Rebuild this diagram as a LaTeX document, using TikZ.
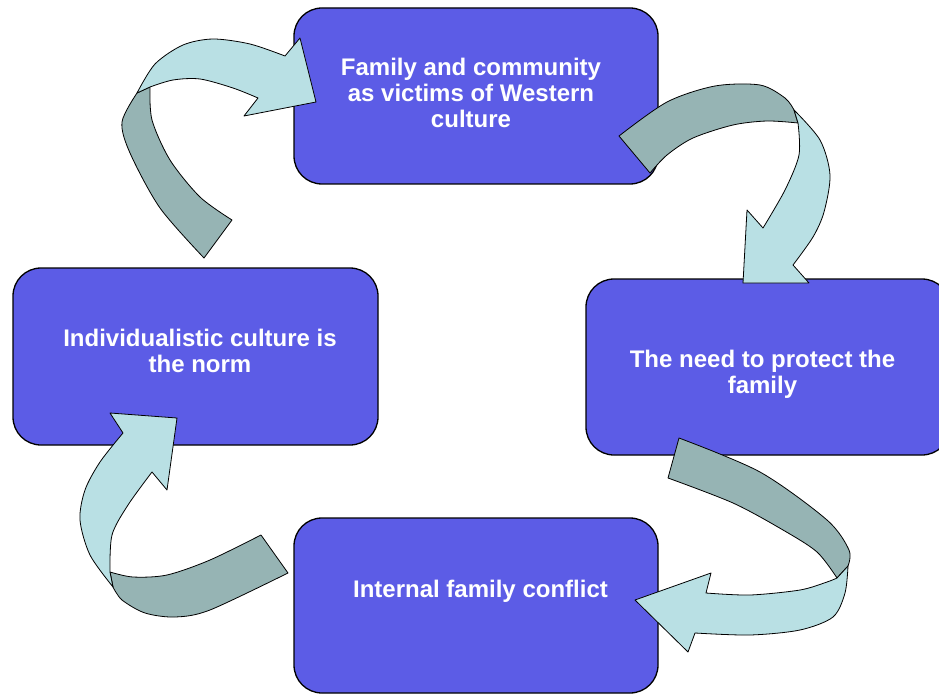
\documentclass[tikz,border=0pt]{standalone}
\usepackage{fontspec}
\setmainfont{Liberation Sans}
\definecolor{boxblue}{RGB}{92,92,230}
\definecolor{arrlight}{RGB}{185,224,228}
\definecolor{arrdark}{RGB}{150,180,180}
\begin{document}
\begin{tikzpicture}[x=1pt,y=-1pt,
  box/.style={draw=black, line width=1.3pt, fill=boxblue, rounded corners=28pt, minimum width=364pt, minimum height=176pt, inner sep=0pt},
  lbl/.style={text=white, font=\bfseries\fontsize{24}{26}\selectfont, align=center, inner sep=0pt},
  light/.style={fill=arrlight, draw=black, line width=0.8pt, line join=round},
  dark/.style={fill=arrdark, draw=black, line width=0.8pt, line join=round}]
\useasboundingbox (0,0) rectangle (939,695);
% boxes
\node[box] (top) at (476,96) {};
\node[box, minimum width=365pt, minimum height=177pt] (left) at (195.5,356.5) {};
\node[box] (right) at (768,367) {};
\node[box, minimum height=175pt] (bottom) at (476,605.5) {};
% labels
\node[lbl] (toptext) at (471,93.3) {Family and community\\as victims of Western\\culture};
\node[lbl] (lefttext) at (200,351.3) {Individualistic culture is\\the norm};
\node[lbl] (righttext) at (762.5,374) {The need to protect the\\family};
\node[lbl, anchor=base] (bottomtext) at (480.5,597) {Internal family conflict};
% arrow 1: left -> top
\draw[dark] (232,220) -- plot[smooth] coordinates {(204,258) (160,208) (130,153) (122,122) (137,93)} -- plot[smooth] coordinates {(150,87) (152,120) (170,160) (200,197) (232,220)} -- cycle;
\draw[light] plot[smooth] coordinates {(137,93) (155,64) (183,45) (213,39) (250,44) (285,56)} -- (300,38) -- (316,102) -- (244,116) -- plot[smooth] coordinates {(258,98) (233,88) (200,79) (173,80) (150,87)} -- cycle;
% arrow 2: top -> right
\draw[dark] (650,173) -- plot[smooth] coordinates {(619,136) (667,102) (715,86) (760,85) (785,98) (794,110)} -- plot[smooth] coordinates {(798,123) (767,121) (733,125) (693,138) (667,155) (650,173)} -- cycle;
\draw[light] plot[smooth] coordinates {(794,110) (820,140) (830,175) (824,212) (813,237) (793,265)} -- (809,283) -- (743,283) -- (747,210) -- plot[smooth] coordinates {(763,228) (785,190) (799,155) (798,123)} -- cycle;
% arrow 3: right -> bottom
\draw[dark] (668,478) -- plot[smooth] coordinates {(679,438) (760,472) (827,520) (849,550) (848,566)} -- plot[smooth] coordinates {(837,578) (817,552) (783,530) (733,503) (668,478)} -- cycle;
\draw[light] plot[smooth] coordinates {(848,566) (845,593) (833,617) (800,630) (750,635) (695,633)} -- (688,652) -- (635,600) -- (711,573) -- plot[smooth] coordinates {(706,593) (750,595) (800,590) (827,582) (837,578)} -- cycle;
% arrow 4: bottom -> left
\draw[dark] (288,573) -- plot[smooth] coordinates {(261,535) (210,560) (167,575) (133,577) (110,572)} -- plot[smooth] coordinates {(113,587) (122,600) (145,613) (175,617) (210,610) (288,573)} -- cycle;
\draw[light] plot[smooth] coordinates {(113,587) (90,555) (80,520) (85,490) (100,462) (123,433)} -- (110,413) -- (177,418) -- (167,490) -- plot[smooth] coordinates {(152,472) (128,505) (112,535) (110,572)} -- cycle;
\end{tikzpicture}
\end{document}
